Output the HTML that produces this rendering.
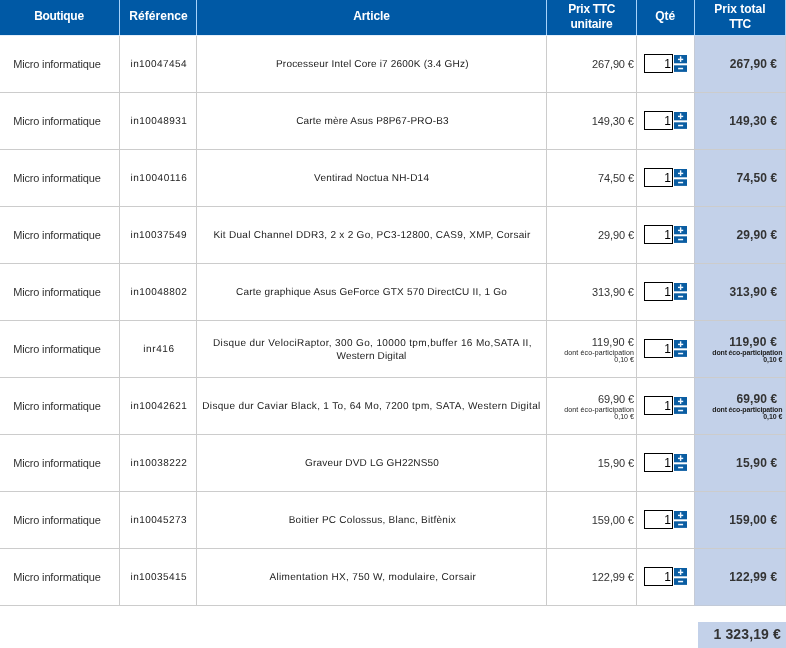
<!DOCTYPE html>
<html lang="fr"><head><meta charset="utf-8"><title>Panier</title>
<style>
html,body{margin:0;padding:0;background:#fff;}
body{width:786px;height:648px;overflow:hidden;position:relative;font-family:"Liberation Sans",Arial,sans-serif;color:#333333;}
.head{position:absolute;left:0;top:0;width:786px;height:36px;background:linear-gradient(90deg,#e4effb 694px,#b8d6f6 694px);z-index:1;}
.th{position:absolute;top:0;height:35px;background:#0059a5;border-right:1px solid #a6d2fa;}
.row{position:absolute;left:0;width:786px;height:58px;background:#cccccc;}
.td{position:absolute;top:1px;height:56px;background:#fff;}
.c1{left:0;width:119px;}
.c2{left:120px;width:76px;}
.c3{left:197px;width:349px;}
.c4{left:547px;width:89px;}
.c5{left:637px;width:57px;}
.c6{left:694px;width:92px;height:57px;box-sizing:border-box;background:#c3d1e9;border-left:1px solid #c5cad5;border-right:1px solid #c9ced8;border-bottom:1px solid #c2cad8;}
.t{position:absolute;white-space:nowrap;display:block;}
.h{color:#fff;font-weight:bold;font-size:12px;line-height:14px;}
.s10{font-size:10px;line-height:12px;text-rendering:geometricPrecision;color:#222;}
.s11{font-size:11px;line-height:13px;}
.b12{font-size:12px;line-height:14px;font-weight:bold;}
.s7{font-size:7px;line-height:8px;color:#222;}
.b7{font-size:7px;line-height:8px;font-weight:bold;color:#222;}
.b14{font-size:14px;line-height:16px;font-weight:bold;}
.inp{position:absolute;left:7px;top:18px;width:29px;height:19px;box-sizing:border-box;border:1px solid #000;background:#fff;text-align:right;font-size:12px;line-height:19px;padding-right:1px;color:#000;}
.btn{position:absolute;left:37px;top:19px;display:block;}
.total{position:absolute;left:698px;top:622px;width:88px;height:26px;background:#c3d1e9;}
</style></head>
<body>
<div class="head">
<div class="th" style="left:0px;width:119px"><span class="t h" style="left:34.2px;top:9px;letter-spacing:-0.3px">Boutique</span></div>
<div class="th" style="left:120px;width:76px"><span class="t h" style="left:9.2px;top:9px;letter-spacing:0.07px">Référence</span></div>
<div class="th" style="left:197px;width:349px"><span class="t h" style="left:156.3px;top:9px;letter-spacing:-0.13px">Article</span></div>
<div class="th" style="left:547px;width:89px"><span class="t h" style="left:21.3px;top:2px;letter-spacing:-0.3px">Prix TTC</span><span class="t h" style="left:23.4px;top:17px;letter-spacing:-0.15px">unitaire</span></div>
<div class="th" style="left:637px;width:57px"><span class="t h" style="left:18.3px;top:9px;letter-spacing:-0.11px">Qté</span></div>
<div class="th" style="left:695px;width:90px"><span class="t h" style="left:19.3px;top:2px;letter-spacing:-0.01px">Prix total</span><span class="t h" style="left:34.2px;top:17px;letter-spacing:-0.7px">TTC</span></div>
</div>
<div class="row" style="top:35px">
<div class="td c1"><span class="t s11" style="left:13.2px;top:22px;letter-spacing:-0.17px">Micro informatique</span></div>
<div class="td c2"><span class="t s10" style="left:10.5px;top:23px;letter-spacing:0.42px">in10047454</span></div>
<div class="td c3"><span class="t s10" style="left:79.0px;top:23px;letter-spacing:0.19px">Processeur Intel Core i7 2600K (3.4 GHz)</span></div>
<div class="td c4"><span class="t s11" style="left:45.1px;top:22px;letter-spacing:-0.15px">267,90 €</span></div>
<div class="td c5"><span class="inp">1</span><svg class="btn" width="13" height="18" viewBox="0 0 13 18" aria-label="plus / moins"><rect x="0" y="0" width="13" height="8.3" fill="#0a5da2"/><rect x="0" y="10.3" width="13" height="6.6" fill="#0a5da2"/><rect x="4" y="3.7" width="5.2" height="1.4" fill="#f4f9ff"/><rect x="5.9" y="1.3" width="1.4" height="5.6" fill="#f4f9ff"/><rect x="4.1" y="12.8" width="5" height="1.5" fill="#f4f9ff"/></svg></div>
<div class="td c6"><span class="t b12" style="left:34.7px;top:21px;letter-spacing:0.09px">267,90 €</span></div>
</div>
<div class="row" style="top:92px">
<div class="td c1"><span class="t s11" style="left:13.2px;top:22px;letter-spacing:-0.17px">Micro informatique</span></div>
<div class="td c2"><span class="t s10" style="left:10.5px;top:23px;letter-spacing:0.45px">in10048931</span></div>
<div class="td c3"><span class="t s10" style="left:99.2px;top:23px;letter-spacing:0.17px">Carte mère Asus P8P67-PRO-B3</span></div>
<div class="td c4"><span class="t s11" style="left:44.8px;top:22px;letter-spacing:-0.09px">149,30 €</span></div>
<div class="td c5"><span class="inp">1</span><svg class="btn" width="13" height="18" viewBox="0 0 13 18" aria-label="plus / moins"><rect x="0" y="0" width="13" height="8.3" fill="#0a5da2"/><rect x="0" y="10.3" width="13" height="6.6" fill="#0a5da2"/><rect x="4" y="3.7" width="5.2" height="1.4" fill="#f4f9ff"/><rect x="5.9" y="1.3" width="1.4" height="5.6" fill="#f4f9ff"/><rect x="4.1" y="12.8" width="5" height="1.5" fill="#f4f9ff"/></svg></div>
<div class="td c6"><span class="t b12" style="left:34.3px;top:21px;letter-spacing:0.15px">149,30 €</span></div>
</div>
<div class="row" style="top:149px">
<div class="td c1"><span class="t s11" style="left:13.2px;top:22px;letter-spacing:-0.17px">Micro informatique</span></div>
<div class="td c2"><span class="t s10" style="left:10.5px;top:23px;letter-spacing:0.52px">in10040116</span></div>
<div class="td c3"><span class="t s10" style="left:117.1px;top:23px;letter-spacing:0.23px">Ventirad Noctua NH-D14</span></div>
<div class="td c4"><span class="t s11" style="left:51.0px;top:22px;letter-spacing:-0.1px">74,50 €</span></div>
<div class="td c5"><span class="inp">1</span><svg class="btn" width="13" height="18" viewBox="0 0 13 18" aria-label="plus / moins"><rect x="0" y="0" width="13" height="8.3" fill="#0a5da2"/><rect x="0" y="10.3" width="13" height="6.6" fill="#0a5da2"/><rect x="4" y="3.7" width="5.2" height="1.4" fill="#f4f9ff"/><rect x="5.9" y="1.3" width="1.4" height="5.6" fill="#f4f9ff"/><rect x="4.1" y="12.8" width="5" height="1.5" fill="#f4f9ff"/></svg></div>
<div class="td c6"><span class="t b12" style="left:41.4px;top:21px;letter-spacing:0.12px">74,50 €</span></div>
</div>
<div class="row" style="top:206px">
<div class="td c1"><span class="t s11" style="left:13.2px;top:22px;letter-spacing:-0.17px">Micro informatique</span></div>
<div class="td c2"><span class="t s10" style="left:10.5px;top:23px;letter-spacing:0.42px">in10037549</span></div>
<div class="td c3"><span class="t s10" style="left:16.4px;top:23px;letter-spacing:0.28px">Kit Dual Channel DDR3, 2 x 2 Go, PC3-12800, CAS9, XMP, Corsair</span></div>
<div class="td c4"><span class="t s11" style="left:51.1px;top:22px;letter-spacing:-0.12px">29,90 €</span></div>
<div class="td c5"><span class="inp">1</span><svg class="btn" width="13" height="18" viewBox="0 0 13 18" aria-label="plus / moins"><rect x="0" y="0" width="13" height="8.3" fill="#0a5da2"/><rect x="0" y="10.3" width="13" height="6.6" fill="#0a5da2"/><rect x="4" y="3.7" width="5.2" height="1.4" fill="#f4f9ff"/><rect x="5.9" y="1.3" width="1.4" height="5.6" fill="#f4f9ff"/><rect x="4.1" y="12.8" width="5" height="1.5" fill="#f4f9ff"/></svg></div>
<div class="td c6"><span class="t b12" style="left:41.5px;top:21px;letter-spacing:0.1px">29,90 €</span></div>
</div>
<div class="row" style="top:263px">
<div class="td c1"><span class="t s11" style="left:13.2px;top:22px;letter-spacing:-0.17px">Micro informatique</span></div>
<div class="td c2"><span class="t s10" style="left:10.5px;top:23px;letter-spacing:0.44px">in10048802</span></div>
<div class="td c3"><span class="t s10" style="left:39.1px;top:23px;letter-spacing:0.21px">Carte graphique Asus GeForce GTX 570 DirectCU II, 1 Go</span></div>
<div class="td c4"><span class="t s11" style="left:45.1px;top:22px;letter-spacing:-0.14px">313,90 €</span></div>
<div class="td c5"><span class="inp">1</span><svg class="btn" width="13" height="18" viewBox="0 0 13 18" aria-label="plus / moins"><rect x="0" y="0" width="13" height="8.3" fill="#0a5da2"/><rect x="0" y="10.3" width="13" height="6.6" fill="#0a5da2"/><rect x="4" y="3.7" width="5.2" height="1.4" fill="#f4f9ff"/><rect x="5.9" y="1.3" width="1.4" height="5.6" fill="#f4f9ff"/><rect x="4.1" y="12.8" width="5" height="1.5" fill="#f4f9ff"/></svg></div>
<div class="td c6"><span class="t b12" style="left:34.5px;top:21px;letter-spacing:0.12px">313,90 €</span></div>
</div>
<div class="row" style="top:320px">
<div class="td c1"><span class="t s11" style="left:13.2px;top:22px;letter-spacing:-0.17px">Micro informatique</span></div>
<div class="td c2"><span class="t s10" style="left:23.3px;top:23px;letter-spacing:0.58px">inr416</span></div>
<div class="td c3"><span class="t s10" style="left:16.0px;top:17px;letter-spacing:0.37px">Disque dur VelociRaptor, 300 Go, 10000 tpm,buffer 16 Mo,SATA II,</span><span class="t s10" style="left:139.6px;top:30px;letter-spacing:0.15px">Western Digital</span></div>
<div class="td c4"><span class="t s11" style="left:44.8px;top:15px;letter-spacing:0.01px">119,90 €</span><span class="t s7" style="left:17.3px;top:28px;letter-spacing:0.13px">dont éco-participation</span><span class="t s7" style="left:67.2px;top:35px;letter-spacing:0.05px">0,10 €</span></div>
<div class="td c5"><span class="inp">1</span><svg class="btn" width="13" height="18" viewBox="0 0 13 18" aria-label="plus / moins"><rect x="0" y="0" width="13" height="8.3" fill="#0a5da2"/><rect x="0" y="10.3" width="13" height="6.6" fill="#0a5da2"/><rect x="4" y="3.7" width="5.2" height="1.4" fill="#f4f9ff"/><rect x="5.9" y="1.3" width="1.4" height="5.6" fill="#f4f9ff"/><rect x="4.1" y="12.8" width="5" height="1.5" fill="#f4f9ff"/></svg></div>
<div class="td c6"><span class="t b12" style="left:34.3px;top:14px;letter-spacing:0.21px">119,90 €</span><span class="t b7" style="left:17.3px;top:28px;letter-spacing:-0.16px">dont éco-participation</span><span class="t b7" style="left:68.2px;top:35px;letter-spacing:-0.05px">0,10 €</span></div>
</div>
<div class="row" style="top:377px">
<div class="td c1"><span class="t s11" style="left:13.2px;top:22px;letter-spacing:-0.17px">Micro informatique</span></div>
<div class="td c2"><span class="t s10" style="left:10.5px;top:23px;letter-spacing:0.45px">in10042621</span></div>
<div class="td c3"><span class="t s10" style="left:5.3px;top:23px;letter-spacing:0.33px">Disque dur Caviar Black, 1 To, 64 Mo, 7200 tpm, SATA, Western Digital</span></div>
<div class="td c4"><span class="t s11" style="left:51.1px;top:15px;letter-spacing:-0.12px">69,90 €</span><span class="t s7" style="left:17.3px;top:28px;letter-spacing:0.13px">dont éco-participation</span><span class="t s7" style="left:67.2px;top:35px;letter-spacing:0.05px">0,10 €</span></div>
<div class="td c5"><span class="inp">1</span><svg class="btn" width="13" height="18" viewBox="0 0 13 18" aria-label="plus / moins"><rect x="0" y="0" width="13" height="8.3" fill="#0a5da2"/><rect x="0" y="10.3" width="13" height="6.6" fill="#0a5da2"/><rect x="4" y="3.7" width="5.2" height="1.4" fill="#f4f9ff"/><rect x="5.9" y="1.3" width="1.4" height="5.6" fill="#f4f9ff"/><rect x="4.1" y="12.8" width="5" height="1.5" fill="#f4f9ff"/></svg></div>
<div class="td c6"><span class="t b12" style="left:41.5px;top:14px;letter-spacing:0.11px">69,90 €</span><span class="t b7" style="left:17.3px;top:28px;letter-spacing:-0.16px">dont éco-participation</span><span class="t b7" style="left:68.2px;top:35px;letter-spacing:-0.05px">0,10 €</span></div>
</div>
<div class="row" style="top:434px">
<div class="td c1"><span class="t s11" style="left:13.2px;top:22px;letter-spacing:-0.17px">Micro informatique</span></div>
<div class="td c2"><span class="t s10" style="left:10.5px;top:23px;letter-spacing:0.44px">in10038222</span></div>
<div class="td c3"><span class="t s10" style="left:108.1px;top:23px;letter-spacing:0.17px">Graveur DVD LG GH22NS50</span></div>
<div class="td c4"><span class="t s11" style="left:50.8px;top:22px;letter-spacing:-0.06px">15,90 €</span></div>
<div class="td c5"><span class="inp">1</span><svg class="btn" width="13" height="18" viewBox="0 0 13 18" aria-label="plus / moins"><rect x="0" y="0" width="13" height="8.3" fill="#0a5da2"/><rect x="0" y="10.3" width="13" height="6.6" fill="#0a5da2"/><rect x="4" y="3.7" width="5.2" height="1.4" fill="#f4f9ff"/><rect x="5.9" y="1.3" width="1.4" height="5.6" fill="#f4f9ff"/><rect x="4.1" y="12.8" width="5" height="1.5" fill="#f4f9ff"/></svg></div>
<div class="td c6"><span class="t b12" style="left:41.1px;top:21px;letter-spacing:0.17px">15,90 €</span></div>
</div>
<div class="row" style="top:491px">
<div class="td c1"><span class="t s11" style="left:13.2px;top:22px;letter-spacing:-0.17px">Micro informatique</span></div>
<div class="td c2"><span class="t s10" style="left:10.5px;top:23px;letter-spacing:0.43px">in10045273</span></div>
<div class="td c3"><span class="t s10" style="left:91.7px;top:23px;letter-spacing:0.26px">Boitier PC Colossus, Blanc, Bitfènix</span></div>
<div class="td c4"><span class="t s11" style="left:44.8px;top:22px;letter-spacing:-0.09px">159,00 €</span></div>
<div class="td c5"><span class="inp">1</span><svg class="btn" width="13" height="18" viewBox="0 0 13 18" aria-label="plus / moins"><rect x="0" y="0" width="13" height="8.3" fill="#0a5da2"/><rect x="0" y="10.3" width="13" height="6.6" fill="#0a5da2"/><rect x="4" y="3.7" width="5.2" height="1.4" fill="#f4f9ff"/><rect x="5.9" y="1.3" width="1.4" height="5.6" fill="#f4f9ff"/><rect x="4.1" y="12.8" width="5" height="1.5" fill="#f4f9ff"/></svg></div>
<div class="td c6"><span class="t b12" style="left:34.3px;top:21px;letter-spacing:0.15px">159,00 €</span></div>
</div>
<div class="row" style="top:548px">
<div class="td c1"><span class="t s11" style="left:13.2px;top:22px;letter-spacing:-0.17px">Micro informatique</span></div>
<div class="td c2"><span class="t s10" style="left:10.5px;top:23px;letter-spacing:0.42px">in10035415</span></div>
<div class="td c3"><span class="t s10" style="left:72.4px;top:23px;letter-spacing:0.33px">Alimentation HX, 750 W, modulaire, Corsair</span></div>
<div class="td c4"><span class="t s11" style="left:44.8px;top:22px;letter-spacing:-0.09px">122,99 €</span></div>
<div class="td c5"><span class="inp">1</span><svg class="btn" width="13" height="18" viewBox="0 0 13 18" aria-label="plus / moins"><rect x="0" y="0" width="13" height="8.3" fill="#0a5da2"/><rect x="0" y="10.3" width="13" height="6.6" fill="#0a5da2"/><rect x="4" y="3.7" width="5.2" height="1.4" fill="#f4f9ff"/><rect x="5.9" y="1.3" width="1.4" height="5.6" fill="#f4f9ff"/><rect x="4.1" y="12.8" width="5" height="1.5" fill="#f4f9ff"/></svg></div>
<div class="td c6"><span class="t b12" style="left:34.3px;top:21px;letter-spacing:0.15px">122,99 €</span></div>
</div>
<div class="total"><span class="t b14" style="left:15.5px;top:4px;letter-spacing:0.12px">1 323,19 €</span></div>
</body></html>
